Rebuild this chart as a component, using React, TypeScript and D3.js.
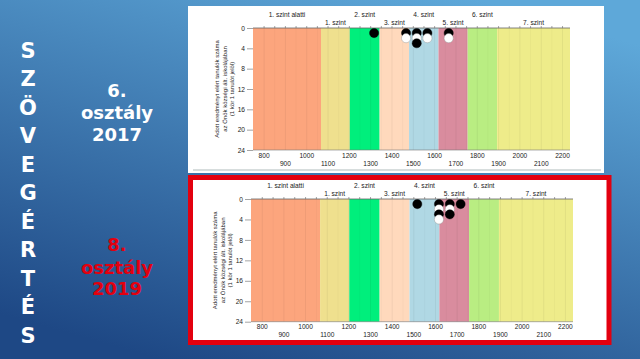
import React, { useRef, useEffect } from "react";
import * as d3 from "d3";

// Skill levels (képességszintek) and their score boundaries
const levelNames = [
  "1. szint alatti",
  "1. szint",
  "2. szint",
  "3. szint",
  "4. szint",
  "5. szint",
  "6. szint",
  "7. szint",
];
const levelBounds = [748, 1067, 1202, 1342, 1480, 1618, 1755, 1893, 2235];
const levelColors = [
  "#fca57d",
  "#efe08e",
  "#00ef7c",
  "#ffd9bc",
  "#b0d8e4",
  "#d98c9e",
  "#b9ed82",
  "#eeec8a",
];

const xTicks = [800, 900, 1000, 1100, 1200, 1300, 1400, 1500, 1600, 1700, 1800, 1900, 2000, 2100, 2200];
const yTicks = [0, 4, 8, 12, 16, 20, 24];

// one column per score bin, count = number of students
const scores2017 = [1316, 1466, 1516, 1566, 1666];
const counts2017 = [1, 2, 3, 2, 2];
const scores2019 = [1516, 1616, 1666, 1716];
const counts2019 = [1, 4, 3, 1];

const titleLetters = ["S", "Z", "Ö", "V", "E", "G", "É", "R", "T", "É", "S"];
const yTitle = [
  "Adott eredményt elért tanulók száma",
  "az Önök községi ált. iskolájában",
  "(1 kör 1 tanulót jelöl)",
];

type ChartProps = {
  scores: number[];
  counts: number[];
  left: number;
  top: number;
  width: number;
  height: number;
};

const LevelChart = ({ scores, counts, left, top, width, height }: ChartProps) => {
  const ref = useRef<SVGGElement>(null);

  useEffect(() => {
    const g = d3.select(ref.current);
    g.selectAll("*").remove();

    const x = d3
      .scaleLinear()
      .domain([levelBounds[0], levelBounds[levelBounds.length - 1]])
      .range([left, left + width]);
    const y = d3.scaleLinear().domain([0, 24]).range([top, top + height]);
    const bottom = top + height;
    const font = "Liberation Sans, Arial, sans-serif";

    // coloured level bands
    g.selectAll("rect.band")
      .data(levelNames)
      .enter()
      .append("rect")
      .attr("x", (_d, i) => x(levelBounds[i]))
      .attr("width", (_d, i) => x(levelBounds[i + 1]) - x(levelBounds[i]))
      .attr("y", top)
      .attr("height", height)
      .attr("fill", (_d, i) => levelColors[i]);

    // faint vertical grid every 50 points
    const grid = d3.range(800, 2235, 50);
    g.selectAll("line.grid")
      .data(grid)
      .enter()
      .append("line")
      .attr("x1", (d) => x(d))
      .attr("x2", (d) => x(d))
      .attr("y1", top)
      .attr("y2", bottom)
      .attr("stroke", "#000")
      .attr("stroke-opacity", (d) => (d % 100 === 0 ? 0.07 : 0.04))
      .attr("stroke-width", 0.8);

    // level names, alternating rows
    g.selectAll("text.lvl")
      .data(levelNames)
      .enter()
      .append("text")
      .attr("x", (_d, i) => (x(levelBounds[i]) + x(levelBounds[i + 1])) / 2)
      .attr("y", (_d, i) => (i % 2 === 0 ? top - 11.5 : top - 3.5))
      .attr("text-anchor", "middle")
      .attr("font-family", font)
      .attr("font-size", 6.6)
      .attr("fill", "#222")
      .text((d) => d);

    // top axis line with small ticks
    g.append("line")
      .attr("x1", left)
      .attr("x2", left + width)
      .attr("y1", top)
      .attr("y2", top)
      .attr("stroke", "#666")
      .attr("stroke-width", 0.8);
    g.selectAll("line.tt")
      .data(grid)
      .enter()
      .append("line")
      .attr("x1", (d) => x(d))
      .attr("x2", (d) => x(d))
      .attr("y1", top)
      .attr("y2", top - 2)
      .attr("stroke", "#666")
      .attr("stroke-width", 0.6);

    // bottom axis
    g.append("line")
      .attr("x1", left)
      .attr("x2", left + width)
      .attr("y1", bottom)
      .attr("y2", bottom)
      .attr("stroke", "#777")
      .attr("stroke-width", 0.6);
    g.selectAll("text.xt")
      .data(xTicks)
      .enter()
      .append("text")
      .attr("x", (d) => x(d))
      .attr("y", (_d, i) => (i % 2 === 0 ? bottom + 7.5 : bottom + 15.5))
      .attr("text-anchor", "middle")
      .attr("font-family", font)
      .attr("font-size", 6.6)
      .attr("fill", "#222")
      .text((d) => d);

    // y axis
    const yAxis = g
      .append("g")
      .attr("transform", `translate(${left},0)`)
      .call(d3.axisLeft(y).tickValues(yTicks).tickSize(6).tickPadding(2));
    yAxis.select(".domain").remove();
    yAxis.selectAll("line").attr("stroke", "#666").attr("stroke-width", 0.6);
    yAxis
      .selectAll("text")
      .attr("font-family", font)
      .attr("font-size", 6.6)
      .attr("fill", "#222");

    // y axis title
    const cy = (top + bottom) / 2;
    g.selectAll("text.yt")
      .data(yTitle)
      .enter()
      .append("text")
      .attr(
        "transform",
        (_d, i) => `translate(${left - 34 + i * 7.6},${cy}) rotate(-90)`
      )
      .attr("text-anchor", "middle")
      .attr("font-family", font)
      .attr("font-size", 6)
      .attr("fill", "#222")
      .text((d) => d);

    // student circles, stacked and alternating black / white
    const dots = scores.flatMap((s, i) =>
      d3.range(1, counts[i] + 1).map((k) => ({ s, k }))
    );
    dots.sort((a, b) => a.k - b.k);
    g.selectAll("circle.dot")
      .data(dots)
      .enter()
      .append("circle")
      .attr("cx", (d) => x(d.s))
      .attr("cy", (d) => y(d.k))
      .attr("r", 4.6)
      .attr("fill", (d) => (d.k % 2 === 1 ? "#000" : "#fff"))
      .attr("stroke", (d) => (d.k % 2 === 1 ? "#000" : "#888"))
      .attr("stroke-width", 0.4);
  }, [scores, counts, left, top, width, height]);

  return <g ref={ref} />;
};

const App = () => {
  const bold = "DejaVu Sans, Verdana, sans-serif";
  return (
    <div style={{ position: "fixed", left: 0, top: 0 }}>
      <svg width={640} height={359} style={{ display: "block" }}>
        <defs>
          <linearGradient id="bg" x1="0.75" y1="0" x2="0.25" y2="1">
            <stop offset="0" stopColor="#5ea8d9" />
            <stop offset="1" stopColor="#1e4885" />
          </linearGradient>
        </defs>
        <rect x={0} y={0} width={640} height={359} fill="url(#bg)" />

        {/* vertical title */}
        {titleLetters.map((l, i) => (
          <text
            key={i}
            x={28}
            y={50 + i * 28.5 + 7.5}
            textAnchor="middle"
            fontFamily={bold}
            fontWeight="bold"
            fontSize={21}
            fill="#fff"
          >
            {l}
          </text>
        ))}

        {/* year labels */}
        <g fontFamily={bold} fontWeight="bold" fontSize={18} textAnchor="middle">
          <text x={117} y={97} fill="#fff">6.</text>
          <text x={117} y={119} fill="#fff">osztály</text>
          <text x={117} y={141} fill="#fff">2017</text>
          <text x={117} y={251} fill="#e3000f">8.</text>
          <text x={117} y={274} fill="#e3000f">osztály</text>
          <text x={117} y={295} fill="#e3000f">2019</text>
        </g>

        {/* top panel */}
        <rect x={188} y={6} width={416} height={167} fill="#fff" />
        <line x1={193} x2={601} y1={170} y2={170} stroke="#9aa" strokeWidth={0.8} />
        <LevelChart scores={scores2017} counts={counts2017} left={253} top={28} width={317} height={122} />

        {/* bottom panel with red frame */}
        <rect x={190.5} y={177.5} width={418.5} height={165} fill="#fff" stroke="#e3000f" strokeWidth={5} />
        <LevelChart scores={scores2019} counts={counts2019} left={251} top={199} width={322} height={122.7} />
      </svg>
    </div>
  );
};

export default App;
